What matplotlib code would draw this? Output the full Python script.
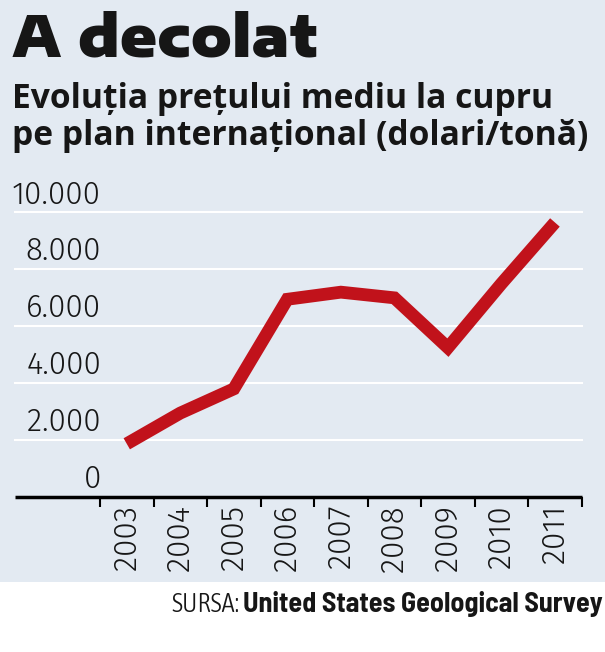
import math
import matplotlib
matplotlib.use("Agg")
import matplotlib.pyplot as plt
from matplotlib import font_manager as fm
from matplotlib.font_manager import FontProperties
from matplotlib.textpath import TextPath
from matplotlib.patches import Rectangle

years = ["2003", "2004", "2005", "2006", "2007", "2008", "2009", "2010", "2011"]
prices = [1870, 2950, 3800, 6950, 7200, 7000, 5250, 7500, 9650]
yticks = [0, 2000, 4000, 6000, 8000, 10000]
ytick_labels = ["0", "2.000", "4.000", "6.000", "8.000", "10.000"]

title = "A decolat"
subtitle = ["Evoluția prețului mediu la cupru", "pe plan internațional (dolari/tonă)"]
source_label = "SURSA:"
source_name = "United States Geological Survey"

BG = "#e3eaf2"
RED = "#c1121b"
INK = "#161616"
W, H, DPI = 605, 652, 100


def resolve(fam, weight):
    try:
        path = fm.findfont(FontProperties(family=fam, weight=weight), fallback_to_default=False)
    except Exception:
        return None
    for f in fm.fontManager.ttflist:
        if f.fname == path and f.name == fam:
            return f
    return None


def fit(text, fams, weight, cap_px, width_px, cap_char="H", min_weight=0):
    best = None
    for fam in fams:
        f = resolve(fam, weight)
        if f is None or (isinstance(f.weight, int) and f.weight < min_weight):
            continue
        prop = FontProperties(family=fam, weight=weight, size=100)
        cap = TextPath((0, 0), cap_char, prop=prop).get_extents().height
        wid = TextPath((0, 0), text, prop=prop).get_extents().width
        fs_cap = cap_px * 72 / DPI * 100 / cap
        fs_w = width_px * 72 / DPI * 100 / wid
        score = abs(math.log(fs_cap / fs_w))
        if best is None or score < best[0]:
            best = (score, fam, fs_w, fs_cap)
    if best is None:
        return ["DejaVu Sans"], cap_px * 72 / DPI / 0.73
    return [best[1], "DejaVu Sans"], best[2]


HEAVY = ["Inter", "Roboto", "Be Vietnam Pro", "Encode Sans Semi Expanded",
         "Encode Sans Expanded", "Fira Sans", "Barlow", "Lato"]
HUMAN_BOLD = ["Asap", "Asap Condensed", "Fira Sans", "Fira Sans Condensed", "Open Sans",
              "Noto Sans", "Lato", "Barlow", "Barlow Semi Condensed"]
HUMAN_LIGHT = ["Asap Condensed", "Barlow Semi Condensed", "Fira Sans Condensed",
               "Encode Sans Semi Condensed", "Open Sans", "Fira Sans", "Noto Sans", "Barlow", "Lato"]

t_fam, t_fs = fit(title, HEAVY, 900, 38.5, 304, min_weight=800)
s_fam, s_fs = fit(subtitle[1], HUMAN_BOLD, "bold", 23, 572)
n_fam, n_fs = fit("10.000", HUMAN_LIGHT, 300, 21.7, 85, cap_char="0")
f_fam, f_fs = fit(source_name, HUMAN_BOLD, "bold", 20, 358)
l_fam, l_fs = fit(source_label, HUMAN_LIGHT, 300, 20, 66)

fig = plt.figure(figsize=(W / DPI, H / DPI), dpi=DPI, facecolor="white")
fig.patches.append(Rectangle((0, 1 - 582 / H), 1, 582 / H, transform=fig.transFigure,
                             facecolor=BG, edgecolor="none", zorder=-10))


def P(x, y):
    return x / W, 1 - y / H


ax_l, ax_r = 15, 581.7
ax_b, ax_t = 497, 212.5
first_tick = 100
ax = fig.add_axes([ax_l / W, 1 - ax_b / H, (ax_r - ax_l) / W, (ax_b - ax_t) / H])
ax.set_facecolor("none")

x = list(range(len(years)))
band = (ax_r - first_tick) / len(years)
left_ext = (first_tick - ax_l) / band
ax.set_xlim(-0.5 - left_ext, len(years) - 0.5)
ax.set_ylim(0, 10000)

for yv in yticks[1:]:
    ax.axhline(yv, color="white", lw=1.5, zorder=1, clip_on=False)

ax.plot(x, prices, color=RED, lw=9.2, solid_joinstyle="miter", solid_capstyle="butt",
        zorder=3, clip_on=False)

for s in ["top", "right", "left"]:
    ax.spines[s].set_visible(False)
ax.spines["bottom"].set_color("black")
ax.spines["bottom"].set_linewidth(2.5)
ax.spines["bottom"].set_capstyle("butt")

ax.set_yticks([])
ax.set_xticks([i - 0.5 for i in range(len(years) + 1)])
ax.set_xticklabels([])
ax.tick_params(axis="x", direction="out", length=7, width=1.5, color="black")

for i, yr in enumerate(years):
    ax.annotate(yr, xy=(i, 0), xycoords=("data", "axes fraction"), xytext=(0, -8),
                textcoords="offset pixels", rotation=90, ha="center", va="top",
                fontsize=n_fs, family=n_fam, fontweight=300, color=INK)

lab_x = (101 - ax_l) / (ax_r - ax_l)
for yv, lab in zip(yticks, ytick_labels):
    ax.annotate(lab, xy=(lab_x, yv), xycoords=("axes fraction", "data"), xytext=(0, 9),
                textcoords="offset pixels", ha="right", va="baseline",
                fontsize=n_fs, family=n_fam, fontweight=300, color=INK)

fig.text(*P(12, 56.7), title, fontsize=t_fs, family=t_fam, fontweight=900,
         color=INK, ha="left", va="baseline")
fig.text(*P(12, 108), subtitle[0], fontsize=s_fs, family=s_fam, fontweight="bold",
         color=INK, ha="left", va="baseline")
fig.text(*P(12, 145), subtitle[1], fontsize=s_fs, family=s_fam, fontweight="bold",
         color=INK, ha="left", va="baseline")

fig.text(*P(603, 611.7), source_name, fontsize=f_fs, family=f_fam, fontweight="bold",
         color=INK, ha="right", va="baseline")
fig.text(*P(171, 611.7), source_label, fontsize=l_fs, family=l_fam, fontweight=300,
         color=INK, ha="left", va="baseline")

fig.savefig("out.png", dpi=DPI, facecolor="white")
